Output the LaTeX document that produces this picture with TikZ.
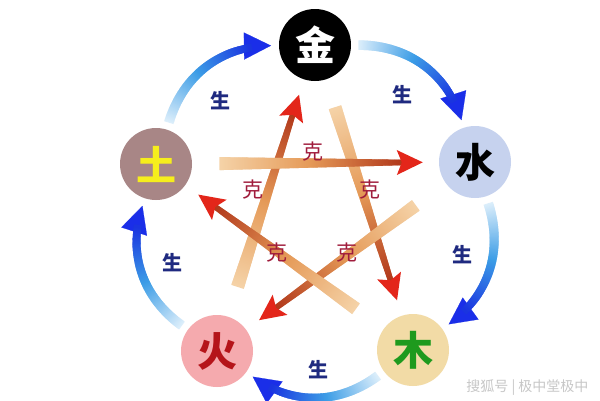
\documentclass[tikz,border=0pt]{standalone}
\usepackage{fontspec}
\newfontfamily\cjk{Noto Sans CJK SC}
\usetikzlibrary{calc,decorations.markings,arrows.meta}
\definecolor{paleb}{HTML}{DDEFFB}
\definecolor{skyb}{HTML}{3C9DE6}
\definecolor{deepb}{HTML}{1A34E0}
\definecolor{headb}{HTML}{1A2EE8}
\definecolor{palek}{HTML}{F5D3A8}
\definecolor{midk}{HTML}{E59A58}
\definecolor{darkk}{HTML}{B23A1C}
\definecolor{headk}{HTML}{E3261A}
\definecolor{shengc}{HTML}{1F2A80}
\definecolor{kec}{HTML}{A01C3C}
\definecolor{jinc}{HTML}{000000}
\definecolor{shuic}{HTML}{C6D2EE}
\definecolor{muc}{HTML}{F2DBA6}
\definecolor{huoc}{HTML}{F5AAAE}
\definecolor{tuc}{HTML}{A88686}
\definecolor{mutext}{HTML}{1E9A1E}
\definecolor{huotext}{HTML}{B5141A}
\definecolor{tutext}{HTML}{F6EE1C}

% one slice of a shaded, tapering shaft
\newcommand\shaftslice[6]{% #1 pale, #2 mid, #3 dark, #4 half width at tail, #5 half width at head, #6 stop before end
  \pgfmathsetmacro\mydist{\pgfkeysvalueof{/pgf/decoration/mark info/distance from start}}%
  \pgfmathsetmacro\mylen{\pgfdecoratedpathlength}%
  \pgfmathsetmacro\myrem{\mylen-\mydist}%
  \pgfmathsetmacro\mypos{min(1,\mydist/(\mylen-22))}%
  \pgfmathsetmacro\mya{min(100,200*\mypos)}%
  \pgfmathsetmacro\myb{max(0,200*\mypos-100)}%
  \pgfmathsetmacro\myh{#4+(#5-#4)*\mypos}%
  \colorlet{segA}{#2!\mya!#1}%
  \colorlet{segB}{#3!\myb!segA}%
  \ifdim\myrem pt>#6pt
    \fill[segB] (-0.7pt,-\myh pt) rectangle (0.7pt,\myh pt);%
  \fi
}

\tikzset{
  elem/.style={circle, minimum size=72pt, inner sep=0pt, outer sep=8pt,
    font=\cjk\bfseries\fontsize{40}{40}\selectfont},
  shenglabel/.style={font=\cjk\bfseries\fontsize{20}{20}\selectfont, text=shengc},
  kelabel/.style={font=\cjk\fontsize{21}{21}\selectfont, text=kec},
  shengarrow/.style={draw=headb, line width=0.2pt,
    -{Triangle[length=27pt,width=27pt]},
    postaction={decorate}, decoration={markings,
    mark=between positions 0 and 1 step 0.8pt with {\shaftslice{paleb}{skyb}{deepb}{4.8}{3.8}{20}}}},
  kearrow/.style={postaction={decorate}, decoration={markings,
    mark=between positions 0 and 1 step 0.8pt with {\shaftslice{palek}{midk}{darkk}{6.5}{2.8}{14}},
    mark=at position 0.999 with {\fill[headk] (0,0) -- (-26pt,12.5pt) -- (-21pt,0pt) -- (-26pt,-12.5pt) -- cycle;}}},
}

\begin{document}
\begin{tikzpicture}[x=1pt,y=1pt]
\fill[white] (0,0) rectangle (600,-400);
\useasboundingbox (0,0) rectangle (600,-400);

% elements
\node[elem, fill=jinc, text=white] (jin) at (315,-45) {金};
\node[elem, fill=shuic, text=black] (shui) at (475,-162) {水};
\node[elem, fill=muc, text=mutext] (mu) at (413,-350) {木};
\node[elem, fill=huoc, text=huotext] (huo) at (217,-351) {火};
\node[elem, fill=tuc, text=tutext] (tu) at (156,-164) {土};

% generating cycle (outer arrows)
\draw[shengarrow] (tu) to[bend left=36] (jin);
\draw[shengarrow] (jin) to[bend left=36] (shui);
\draw[shengarrow] (shui) to[bend left=36] (mu);
\draw[shengarrow] (mu) to[bend left=36] (huo);
\draw[shengarrow] (huo) to[bend left=36] (tu);

% overcoming cycle (pentagram)
\path[kearrow] ($(huo)!68pt!(jin)$) -- ($(jin)!52pt!(huo)$);
\path[kearrow] ($(jin)!66pt!(mu)$) -- ($(mu)!52pt!(jin)$);
\path[kearrow] ($(tu)!64pt!(shui)$) -- ($(shui)!52pt!(tu)$);
\path[kearrow] ($(shui)!74pt!(huo)$) -- ($(huo)!52pt!(shui)$);
\path[kearrow] ($(mu)!71pt!(tu)$) -- ($(tu)!52pt!(mu)$);

% labels
\node[shenglabel] (s1) at (220,-101) {生};
\node[shenglabel] (s2) at (402,-95) {生};
\node[shenglabel] (s3) at (462,-255) {生};
\node[shenglabel] (s4) at (318,-370) {生};
\node[shenglabel] (s5) at (172,-263) {生};

\node[kelabel] (k1) at (313,-152) {克};
\node[kelabel] (k2) at (253,-190) {克};
\node[kelabel] (k3) at (370,-190) {克};
\node[kelabel] (k4) at (277,-253) {克};
\node[kelabel] (k5) at (347,-253) {克};

% watermark
\node[font=\cjk\fontsize{14}{14}\selectfont, text=black!22, anchor=east] (wm) at (592,-388) {搜狐号 | 极中堂极中};
\end{tikzpicture}
\end{document}
